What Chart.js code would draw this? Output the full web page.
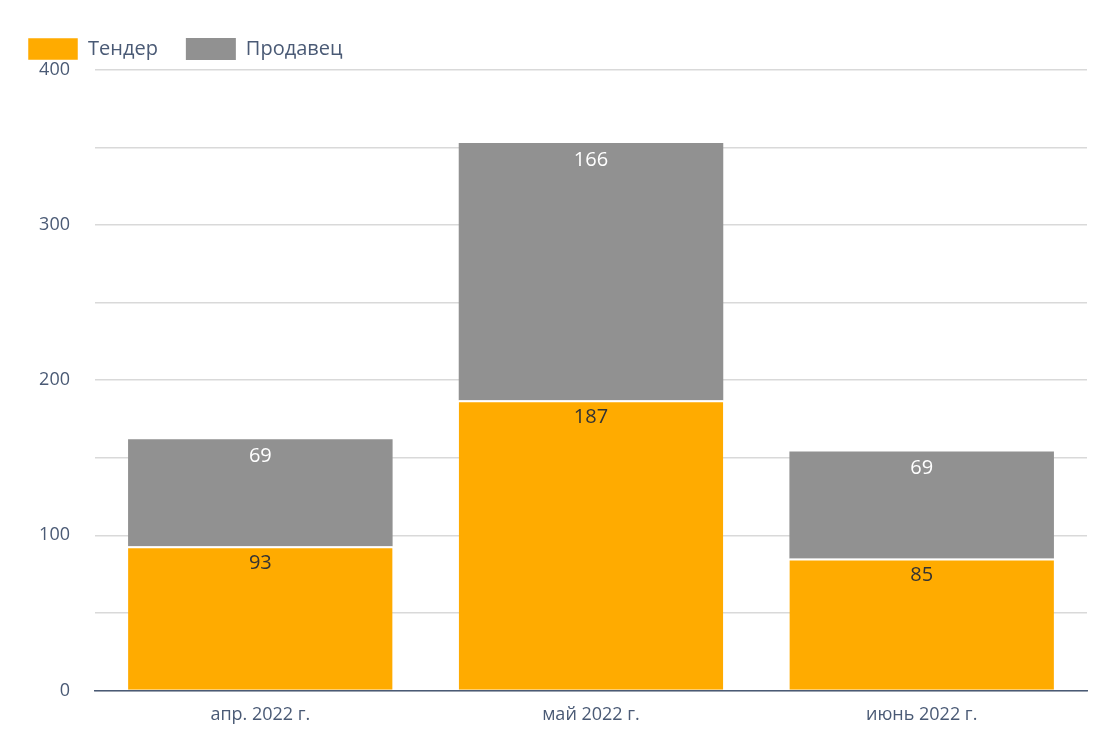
<!DOCTYPE html>
<html><head><meta charset="utf-8">
<script src="https://cdn.jsdelivr.net/npm/chart.js@4"></script>
<style>html,body{margin:0;padding:0;background:#fff}#w{width:1110px;height:754px}</style>
</head><body><div id="w"><canvas id="c"></canvas></div>
<script>
const categories = ["апр. 2022 г.", "май 2022 г.", "июнь 2022 г."];
const tender = [93, 187, 85];
const seller = [69, 166, 69];
const seriesNames = ["Тендер", "Продавец"];
const FONT = "'Open Sans', 'Noto Sans', sans-serif";
const labelPlugin = {
  id: 'lbl',
  afterDatasetsDraw(chart) {
    const ctx = chart.ctx;
    ctx.save();
    ctx.font = "20px " + FONT;
    ctx.textAlign = 'center'; ctx.textBaseline = 'middle';
    chart.data.datasets.forEach((ds, i) => {
      chart.getDatasetMeta(i).data.forEach((bar, j) => {
        ctx.fillStyle = i === 0 ? '#333333' : '#ffffff';
        ctx.fillText(String(ds.data[j]), bar.x, bar.y + 17);
      });
    });
    ctx.restore();
  }
};
new Chart(document.getElementById('c'), {
  type: 'bar',
  data: {
    labels: categories,
    datasets: [
      { label: seriesNames[0], data: tender, backgroundColor: '#ffab00', borderColor: '#ffffff', borderWidth: {top: 2}, borderSkipped: false, barPercentage: 0.8, categoryPercentage: 1 },
      { label: seriesNames[1], data: seller, backgroundColor: '#919191', borderColor: '#ffffff', borderWidth: 0, barPercentage: 0.8, categoryPercentage: 1 }
    ]
  },
  options: {
    responsive: true, maintainAspectRatio: false, animation: false,
    layout: { padding: { left: 0, right: 23, top: 10, bottom: 22 } },
    plugins: {
      tooltip: { enabled: false },
      legend: { align: 'start', labels: { boxWidth: 50, boxHeight: 22, padding: 28, color: '#4a5a75', font: { size: 20, family: FONT } } }
    },
    scales: {
      x: { stacked: true, grid: { display: false }, border: { color: '#4a5a75', width: 1.5 },
           ticks: { color: '#4a5a75', font: { size: 18, family: FONT }, padding: 6 } },
      y: { stacked: true, min: 0, max: 400,
           afterFit(s) { s.width = 95; },
           grid: { color: '#d9d9d9', lineWidth: 1.5, drawTicks: false },
           border: { display: false },
           ticks: { stepSize: 50, color: '#4a5a75', font: { size: 18, family: FONT }, padding: 25,
                    callback: v => v % 100 === 0 ? v : '' } }
    }
  },
  plugins: [labelPlugin]
});
</script></body></html>
